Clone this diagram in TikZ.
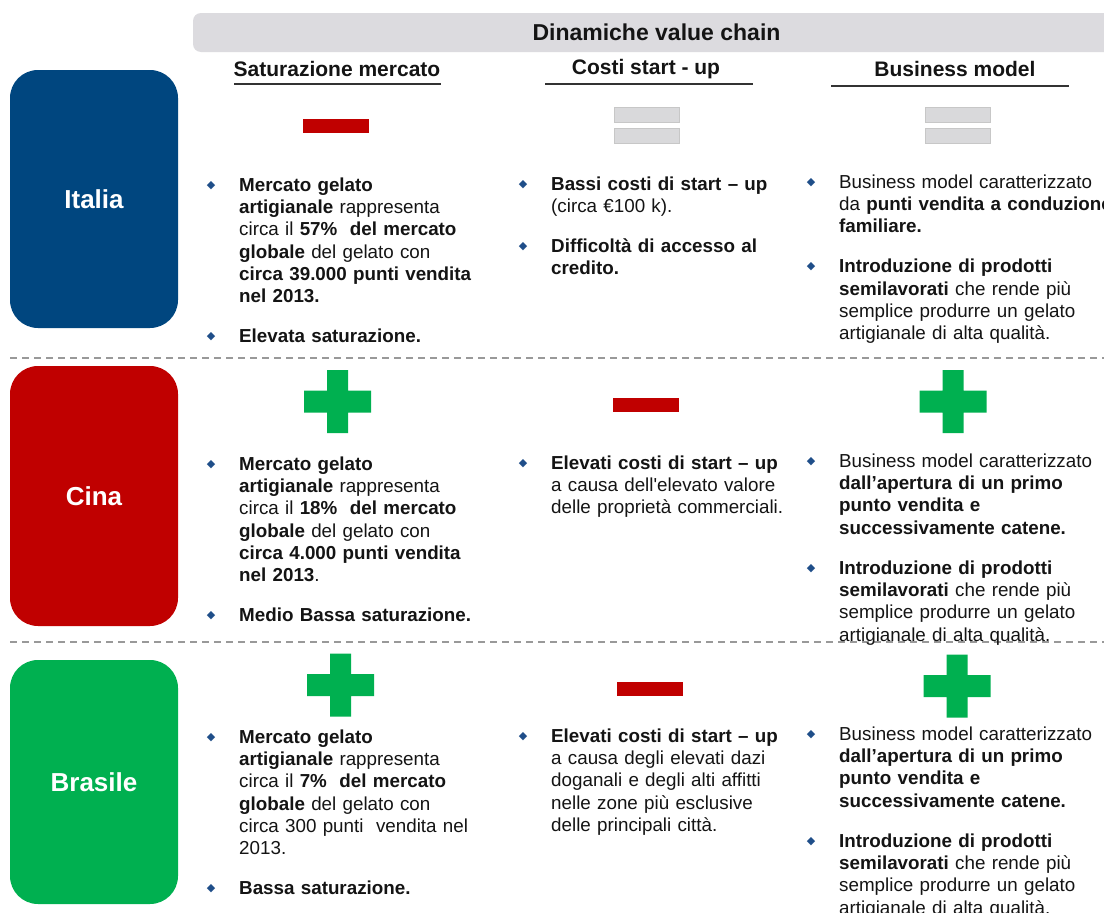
\documentclass[tikz,border=0pt]{standalone}
\usepackage{fontspec}
\setmainfont{Liberation Sans}
\newfontfamily\bulletfont{DejaVu Sans}
\usetikzlibrary{positioning}

\definecolor{itablue}{HTML}{00467F}
\definecolor{cinared}{HTML}{C00000}
\definecolor{brgreen}{HTML}{00B050}
\definecolor{signred}{HTML}{C00000}
\definecolor{signgreen}{HTML}{00B050}
\definecolor{signgray}{HTML}{D9D9DB}
\definecolor{headgray}{HTML}{DCDBDF}
\definecolor{bulletblue}{HTML}{1F4E89}
\definecolor{textblack}{HTML}{141414}

\newcommand{\bodyfont}{\fontsize{18.8}{22.3}\selectfont}
\newcommand{\bulletmark}{\makebox[0pt][c]{\raisebox{3pt}{\bulletfont\fontsize{11}{11}\selectfont\color{bulletblue}◆}}}
\newenvironment{vclist}{%
  \begin{list}{\bulletmark}{%
    \setlength{\leftmargin}{28pt}\setlength{\labelwidth}{28pt}%
    \setlength{\labelsep}{0pt}\setlength{\itemsep}{17.7pt}%
    \setlength{\parsep}{0pt}\setlength{\topsep}{0pt}\setlength{\partopsep}{0pt}%
    \renewcommand{\makelabel}[1]{##1\hfil}}}%
  {\end{list}}

\tikzset{
  country/.style={rounded corners=28pt, minimum width=168pt, text=white,
    font=\fontsize{26}{30}\selectfont\bfseries, inner sep=0pt},
  colhead/.style={font=\fontsize{21}{25}\selectfont\bfseries, text=textblack, inner sep=0pt},
  hdline/.style={line width=2pt, draw=black!80},
  rowsep/.style={draw=black!40, line width=1.2pt, dash pattern=on 7pt off 5pt},
  cell/.style={anchor=base west, text width=420pt, align=left, inner sep=0pt,
    font=\bodyfont, text=textblack},
  plussign/.pic={\fill[signgreen] (-10.5,-31.5) rectangle (10.5,31.5) (-33.5,-11) rectangle (33.5,11);},
  minussign/.pic={\fill[signred] (-33,-7) rectangle (33,7);},
  equalsign/.pic={\filldraw[fill=signgray, draw=black!22, line width=0.8pt]
    (-32.5,-18) rectangle (32.5,-3) (-32.5,3) rectangle (32.5,18);},
}

\begin{document}
\begin{tikzpicture}[x=1pt, y=-1pt]
  \useasboundingbox (0,0) rectangle (1104,913);
  \fill[white] (0,0) rectangle (1104,913);

  % header
  \node[fill=headgray, rounded corners=8pt, minimum width=927pt, minimum height=39pt,
    font=\fontsize{23}{27}\selectfont\bfseries, text=textblack] (title) at (656.5,32.5) {Dinamiche value chain};
  \node[colhead] (hd-sat) at (337,69) {Saturazione mercato};
  \node[colhead] (hd-cost) at (646,69) {Costi start - up};
  \node[colhead] (hd-bm) at (955,69) {Business model};
  \draw[hdline] (234,84) -- (441,84);
  \draw[hdline] (545,84) -- (753,84);
  \draw[hdline] (831,86) -- (1069,86);

  % countries
  \node[country, fill=itablue, minimum height=258pt] (italia) at (94,199) {Italia};
  \node[country, fill=cinared, minimum height=260pt] (cina) at (94,496) {Cina};
  \node[country, fill=brgreen, minimum height=244pt] (brasile) at (94,782) {Brasile};
  \draw[rowsep] (10,358) -- (1104,358);
  \draw[rowsep] (10,642) -- (1104,642);

  % signs
  \pic at (336,126) {minussign};
  \pic at (646.5,125) {equalsign};
  \pic at (957.5,125) {equalsign};
  \pic at (337.5,401.5) {plussign};
  \pic at (646,404.5) {minussign};
  \pic at (953,401.5) {plussign};
  \pic at (340.5,685) {plussign};
  \pic at (649.5,688.5) {minussign};
  \pic at (957,686) {plussign};

  % Italia
  \node[cell] (ita-sat) at (211,169) {\begin{vclist}
    \item \textbf{Mercato gelato}\\ \textbf{artigianale} rappresenta\\ circa il \textbf{57\%\ \ del mercato}\\ \textbf{globale} del gelato con\\ \textbf{circa 39.000 punti vendita}\\ \textbf{nel 2013.}
    \item \textbf{Elevata saturazione.}
  \end{vclist}};
  \node[cell] (ita-cost) at (523,168) {\begin{vclist}
    \item \textbf{Bassi costi di start – up}\\ (circa €100 k).
    \item \textbf{Difficoltà di accesso al}\\ \textbf{credito.}
  \end{vclist}};
  \node[cell] (ita-bm) at (811,166) {\begin{vclist}
    \item Business model caratterizzato\\ da \textbf{punti vendita a conduzione}\\ \textbf{familiare.}
    \item \textbf{Introduzione di prodotti}\\ \textbf{semilavorati} che rende più\\ semplice produrre un gelato\\ artigianale di alta qualità.
  \end{vclist}};

  % Cina
  \node[cell] (cin-sat) at (211,448) {\begin{vclist}
    \item \textbf{Mercato gelato}\\ \textbf{artigianale} rappresenta\\ circa il \textbf{18\%\ \ del mercato}\\ \textbf{globale} del gelato con\\ \textbf{circa 4.000 punti vendita}\\ \textbf{nel 2013}.
    \item \textbf{Medio Bassa saturazione.}
  \end{vclist}};
  \node[cell] (cin-cost) at (523,447) {\begin{vclist}
    \item \textbf{Elevati costi di start – up}\\ a causa dell\textquotesingle elevato valore\\ delle proprietà commerciali.
  \end{vclist}};
  \node[cell] (cin-bm) at (811,445) {\begin{vclist}
    \item Business model caratterizzato\\ \textbf{dall’apertura di un primo}\\ \textbf{punto vendita e}\\ \textbf{successivamente catene.}
    \item \textbf{Introduzione di prodotti}\\ \textbf{semilavorati} che rende più\\ semplice produrre un gelato\\ artigianale di alta qualità.
  \end{vclist}};

  % Brasile
  \node[cell] (bra-sat) at (211,721) {\begin{vclist}
    \item \textbf{Mercato gelato}\\ \textbf{artigianale} rappresenta\\ circa il \textbf{7\%\ \ del mercato}\\ \textbf{globale} del gelato con\\ circa 300 punti\ \ vendita nel\\ 2013.
    \item \textbf{Bassa saturazione.}
  \end{vclist}};
  \node[cell] (bra-cost) at (523,720) {\begin{vclist}
    \item \textbf{Elevati costi di start – up}\\ a causa degli elevati dazi\\ doganali e degli alti affitti\\ nelle zone più esclusive\\ delle principali città.
  \end{vclist}};
  \node[cell] (bra-bm) at (811,718) {\begin{vclist}
    \item Business model caratterizzato\\ \textbf{dall’apertura di un primo}\\ \textbf{punto vendita e}\\ \textbf{successivamente catene.}
    \item \textbf{Introduzione di prodotti}\\ \textbf{semilavorati} che rende più\\ semplice produrre un gelato\\ artigianale di alta qualità.
  \end{vclist}};
\end{tikzpicture}
\end{document}
